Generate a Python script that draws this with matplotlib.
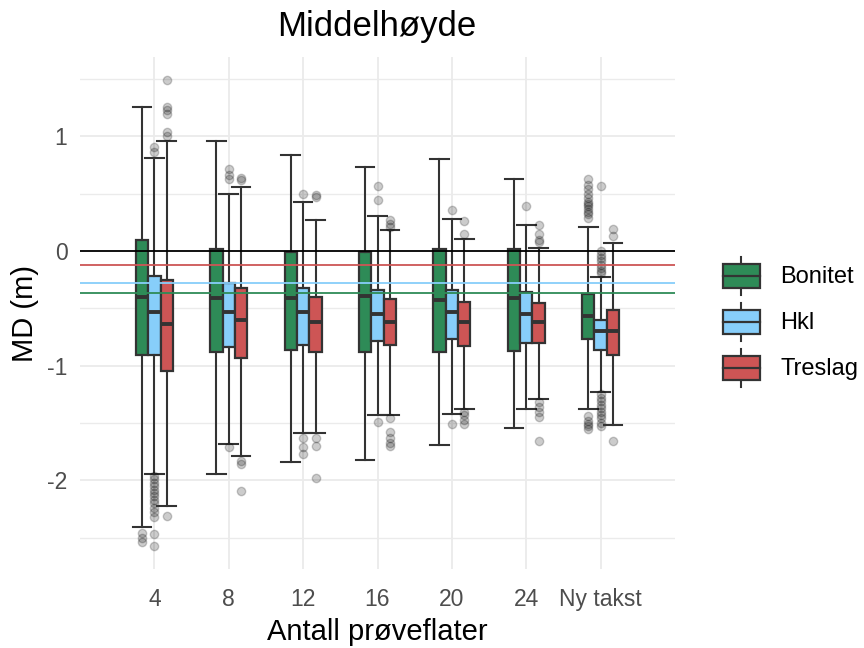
import numpy as np
import matplotlib
matplotlib.use("Agg")
from matplotlib import pyplot as plt
from matplotlib.patches import Rectangle
from matplotlib.lines import Line2D
from matplotlib.legend_handler import HandlerBase

categories = ['4', '8', '12', '16', '20', '24', 'Ny takst']
groups = ['Bonitet', 'Hkl', 'Treslag']
colors = ['#2E8B57', '#87CEFA', '#CD5555']

# box stats: lower whisker, q1, median, q3, upper whisker
bonitet_lo = [-2.41, -1.94, -1.84, -1.82, -1.69, -1.54, -1.38]
bonitet_q1 = [-0.91, -0.88, -0.86, -0.88, -0.88, -0.87, -0.77]
bonitet_med = [-0.40, -0.41, -0.41, -0.39, -0.43, -0.41, -0.57]
bonitet_q3 = [0.10, 0.015, -0.005, -0.005, 0.015, 0.015, -0.37]
bonitet_hi = [1.26, 0.96, 0.84, 0.73, 0.80, 0.63, 0.21]
bonitet_out = [[-2.46, -2.50, -2.54], [], [], [], [], [],
               [0.63, 0.58, 0.54, 0.50, 0.46, 0.43, 0.41, 0.39, 0.37, 0.34, 0.32, 0.29,
                -1.44, -1.48, -1.51, -1.53, -1.55]]

hkl_lo = [-1.94, -1.68, -1.59, -1.43, -1.42, -1.38, -1.225]
hkl_q1 = [-0.91, -0.84, -0.82, -0.78, -0.77, -0.80, -0.86]
hkl_med = [-0.535, -0.535, -0.535, -0.545, -0.535, -0.545, -0.70]
hkl_q3 = [-0.215, -0.28, -0.32, -0.34, -0.34, -0.36, -0.60]
hkl_hi = [0.81, 0.50, 0.43, 0.31, 0.28, 0.23, -0.225]
hkl_out = [[0.91, 0.86, -1.96, -1.99, -2.02, -2.05, -2.08, -2.11, -2.14, -2.17, -2.20,
            -2.24, -2.28, -2.32, -2.47, -2.57],
           [0.72, 0.66, 0.63, -1.71],
           [0.50, -1.63, -1.71, -1.77],
           [0.57, 0.45, -1.49],
           [0.36, -1.51],
           [0.39],
           [0.57, 0.00, -0.03, -0.06, -0.09, -0.12, -0.15, -0.17, -0.19,
            -1.25, -1.28, -1.31, -1.34, -1.37, -1.40, -1.43, -1.46, -1.50, -1.53]]

treslag_lo = [-2.22, -1.79, -1.59, -1.43, -1.38, -1.29, -1.52]
treslag_q1 = [-1.05, -0.93, -0.88, -0.82, -0.83, -0.80, -0.91]
treslag_med = [-0.64, -0.60, -0.62, -0.62, -0.62, -0.62, -0.70]
treslag_q3 = [-0.25, -0.32, -0.40, -0.42, -0.44, -0.45, -0.51]
treslag_hi = [0.96, 0.56, 0.27, 0.18, 0.105, 0.03, 0.07]
treslag_out = [[1.49, 1.26, 1.23, 1.20, 1.04, 1.00, -2.31],
               [0.64, 0.62, -1.83, -1.86, -2.09],
               [0.49, 0.47, -1.63, -1.70, -1.98],
               [0.27, 0.24, 0.21, -1.46, -1.58, -1.63, -1.67, -1.70],
               [0.26, 0.15, -1.40, -1.43, -1.47, -1.51],
               [0.23, 0.15, 0.10, 0.08, -1.32, -1.36, -1.40, -1.45, -1.66],
               [0.19, 0.13, -1.66]]

# reference lines (mean per group) and zero
ref_lines = [0.0, -0.125, -0.28, -0.367]
ref_colors = ['black', '#CD5555', '#87CEFA', '#2E8B57']

all_stats = [
    (bonitet_lo, bonitet_q1, bonitet_med, bonitet_q3, bonitet_hi, bonitet_out),
    (hkl_lo, hkl_q1, hkl_med, hkl_q3, hkl_hi, hkl_out),
    (treslag_lo, treslag_q1, treslag_med, treslag_q3, treslag_hi, treslag_out),
]

plt.rcParams['font.family'] = ['Liberation Sans', 'DejaVu Sans']

fig = plt.figure(figsize=(8.64, 6.48), dpi=100)
ax = fig.add_axes([80 / 864, 1 - 569 / 648, 595 / 864, 512 / 648])

edge = '#333333'
bw = 1 / 6
offsets = [-bw, 0, bw]
x = np.arange(1, len(categories) + 1)

for g, (lo, q1, med, q3, hi, out) in enumerate(all_stats):
    stats = []
    for i in range(len(categories)):
        stats.append(dict(whislo=lo[i], q1=q1[i], med=med[i], q3=q3[i], whishi=hi[i],
                          fliers=out[i]))
    ax.bxp(stats, positions=x + offsets[g], widths=bw, patch_artist=True,
           manage_ticks=False, capwidths=0.25,
           boxprops=dict(facecolor=colors[g], edgecolor=edge, linewidth=1.6),
           medianprops=dict(color=edge, linewidth=2.8, solid_capstyle='butt'),
           whiskerprops=dict(color=edge, linewidth=1.5),
           capprops=dict(color=edge, linewidth=1.5),
           flierprops=dict(marker='o', markerfacecolor='black', markeredgecolor='black',
                           alpha=0.2, markersize=6))

for val, c in zip(ref_lines, ref_colors):
    ax.axhline(val, color=c, linewidth=1.3, zorder=5)

ax.set_xlim(0, 8)
ax.set_ylim(-2.773, 1.693)
ax.set_xticks(x)
ax.set_xticklabels(categories)
ax.set_yticks([-2, -1, 0, 1])
ax.set_yticklabels(['-2', '-1', '0', '1'])
ax.set_yticks([-2.5, -1.5, -0.5, 0.5, 1.5], minor=True)
ax.tick_params(axis='both', which='both', length=0, labelsize=16.5, labelcolor='#4D4D4D')
ax.tick_params(axis='x', pad=14)
ax.tick_params(axis='y', pad=9)
ax.grid(True, which='major', color='#EBEBEB', linewidth=1.3)
ax.grid(True, which='minor', axis='y', color='#EBEBEB', linewidth=1.0)
ax.set_axisbelow(True)
for s in ax.spines.values():
    s.set_visible(False)

fig.text(377 / 864, 1 - 36 / 648, 'Middelhøyde', ha='center', va='baseline', fontsize=25)
fig.text(377 / 864, 1 - 640 / 648, 'Antall prøveflater', ha='center', va='baseline', fontsize=21)
fig.text(25 / 864, 1 - 313 / 648, 'MD (m)', ha='center', va='center', rotation=90, fontsize=21)


class BoxKey(HandlerBase):
    def create_artists(self, legend, orig_handle, xdescent, ydescent, width, height,
                       fontsize, trans):
        x0, y0 = -xdescent, -ydescent
        cx = x0 + width / 2
        fc = orig_handle.get_facecolor()
        rect = Rectangle((x0, y0 + 0.185 * height), width, 0.63 * height,
                         facecolor=fc, edgecolor=edge, linewidth=1.6, transform=trans)
        med = Line2D([x0, x0 + width], [y0 + 0.5 * height] * 2, color=edge,
                     linewidth=1.6, transform=trans)
        w1 = Line2D([cx, cx], [y0, y0 + 0.185 * height], color=edge, linewidth=1.5,
                    transform=trans)
        w2 = Line2D([cx, cx], [y0 + 0.815 * height, y0 + height], color=edge,
                    linewidth=1.5, transform=trans)
        return [w1, w2, rect, med]


handles = [Rectangle((0, 0), 1, 1, facecolor=c) for c in colors]
fig.legend(handles, groups, handler_map={Rectangle: BoxKey()},
           loc='center left', bbox_to_anchor=(723 / 864, 1 - 322 / 648),
           frameon=False, fontsize=17, handlelength=1.565, handleheight=2.1,
           labelspacing=0.34, handletextpad=0.85, borderpad=0, borderaxespad=0)

fig.savefig('out.png', dpi=100)
